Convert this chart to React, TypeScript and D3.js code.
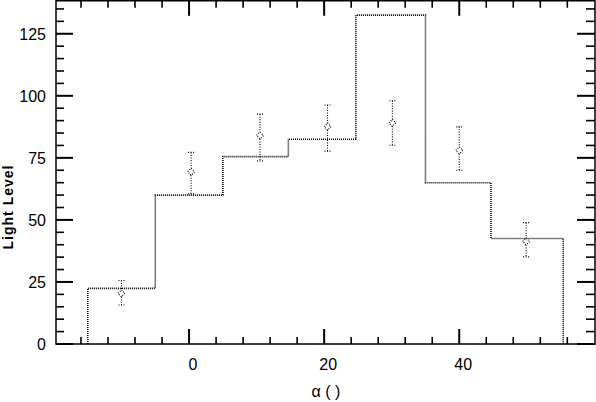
import React from "react";
import * as d3 from "d3";

// Histogram (step) bins: edges and heights
const binEdges = [-15, -5, 5, 14.7, 24.7, 35, 44.7, 55.4];
const binHeights = [22.4, 60, 75.5, 82.5, 132.5, 65, 42.5];

// Measured points with error bars
const pointX = [-10, 0.3, 10.5, 20.5, 30.1, 40, 49.9];
const pointY = [20.4, 69.4, 84, 87.6, 89.1, 78, 41.3];
const pointHi = [25.6, 77.2, 92.6, 96.3, 98, 87.5, 48.9];
const pointLo = [15.7, 60.6, 73.8, 77.7, 80.1, 70, 35.1];

const xMajorTicks = [0, 20, 40];
const xMinorTicks = [-16, -12, -8, -4, 4, 8, 12, 16, 24, 28, 32, 36, 44, 48, 52, 56];
const yMajorTicks = [0, 25, 50, 75, 100, 125];
const yMinorTicks = [5, 10, 15, 20, 30, 35, 40, 45, 55, 60, 65, 70, 80, 85, 90, 95, 105, 110, 115, 120, 130, 135];

const W = 596;
const H = 402;
const L = 56, R = 595, T = 0.75, B = 344;

export default function App() {
  const x = d3.scaleLinear().domain([-19.7, 60.1]).range([L, R]);
  const y = d3.scaleLinear().domain([0, 138.3]).range([B, T]);

  const pts: [number, number][] = [];
  pts.push([x(binEdges[0]), y(0)]);
  binHeights.forEach((h, i) => {
    pts.push([x(binEdges[i]), y(h)]);
    pts.push([x(binEdges[i + 1]), y(h)]);
  });
  pts.push([x(binEdges[binEdges.length - 1]), y(0)]);
  const stepPath = d3.line()(pts) || "";

  const font = "'Liberation Sans', Arial, Helvetica, sans-serif";
  const ds = 3.5;

  return (
    <svg
      width={W}
      height={H}
      style={{ position: "absolute", left: 0, top: 0, background: "#fff" }}
      fontFamily={font}
    >
      <rect x={0} y={0} width={W} height={H} fill="#fff" />
      <path d={stepPath} fill="none" stroke="#000" strokeWidth={1.6} strokeDasharray="1,1" />

      {pointX.map((px, i) => {
        const cx = x(px);
        const cy = y(pointY[i]);
        return (
          <g key={i} stroke="#000" strokeWidth={1.1} strokeDasharray="1,1.5" fill="none">
            <line x1={cx} x2={cx} y1={y(pointHi[i])} y2={cy - ds} />
            <line x1={cx} x2={cx} y1={cy + ds} y2={y(pointLo[i])} />
            <line x1={cx - 3} x2={cx + 3} y1={y(pointHi[i])} y2={y(pointHi[i])} />
            <line x1={cx - 3} x2={cx + 3} y1={y(pointLo[i])} y2={y(pointLo[i])} />
            <path d={`M${cx},${cy - ds}L${cx + ds},${cy}L${cx},${cy + ds}L${cx - ds},${cy}Z`} />
          </g>
        );
      })}

      <rect x={L} y={T} width={R - L} height={B - T} fill="none" stroke="#000" strokeWidth={1.5} />

      {xMajorTicks.map((t) => (
        <g key={"xM" + t} stroke="#000" strokeWidth={2}>
          <line x1={x(t)} x2={x(t)} y1={B} y2={B - 15} />
          <line x1={x(t)} x2={x(t)} y1={T} y2={T + 15} />
        </g>
      ))}
      {xMinorTicks.map((t) => (
        <g key={"xm" + t} stroke="#000" strokeWidth={1.6}>
          <line x1={x(t)} x2={x(t)} y1={B} y2={B - 7} />
          <line x1={x(t)} x2={x(t)} y1={T} y2={T + 7} />
        </g>
      ))}
      {xMajorTicks.map((t) => (
        <text key={"xl" + t} x={x(t) + 4} y={370} fontSize={16} textAnchor="middle" fill="#000">
          {d3.format("d")(t)}
        </text>
      ))}

      {yMajorTicks.map((t) => (
        <g key={"yM" + t} stroke="#000" strokeWidth={2}>
          <line x1={L} x2={L + 17} y1={y(t)} y2={y(t)} />
          <line x1={R} x2={R - 18} y1={y(t)} y2={y(t)} />
        </g>
      ))}
      {yMinorTicks.map((t) => (
        <g key={"ym" + t} stroke="#000" strokeWidth={1.6}>
          <line x1={L} x2={L + 8} y1={y(t)} y2={y(t)} />
          <line x1={R} x2={R - 9} y1={y(t)} y2={y(t)} />
        </g>
      ))}
      {yMajorTicks.map((t) => (
        <text key={"yl" + t} x={46} y={y(t) + 6} fontSize={16} textAnchor="end" fill="#000">
          {d3.format("d")(t)}
        </text>
      ))}

      <text
        transform={`translate(13,207) rotate(-90)`}
        fontSize={14}
        fontWeight="bold"
        textAnchor="middle"
        letterSpacing={1}
        fill="#000"
      >
        Light  Level
      </text>
      <text x={326} y={397} fontSize={16} textAnchor="middle" fill="#000">
        α ( )
      </text>
    </svg>
  );
}
